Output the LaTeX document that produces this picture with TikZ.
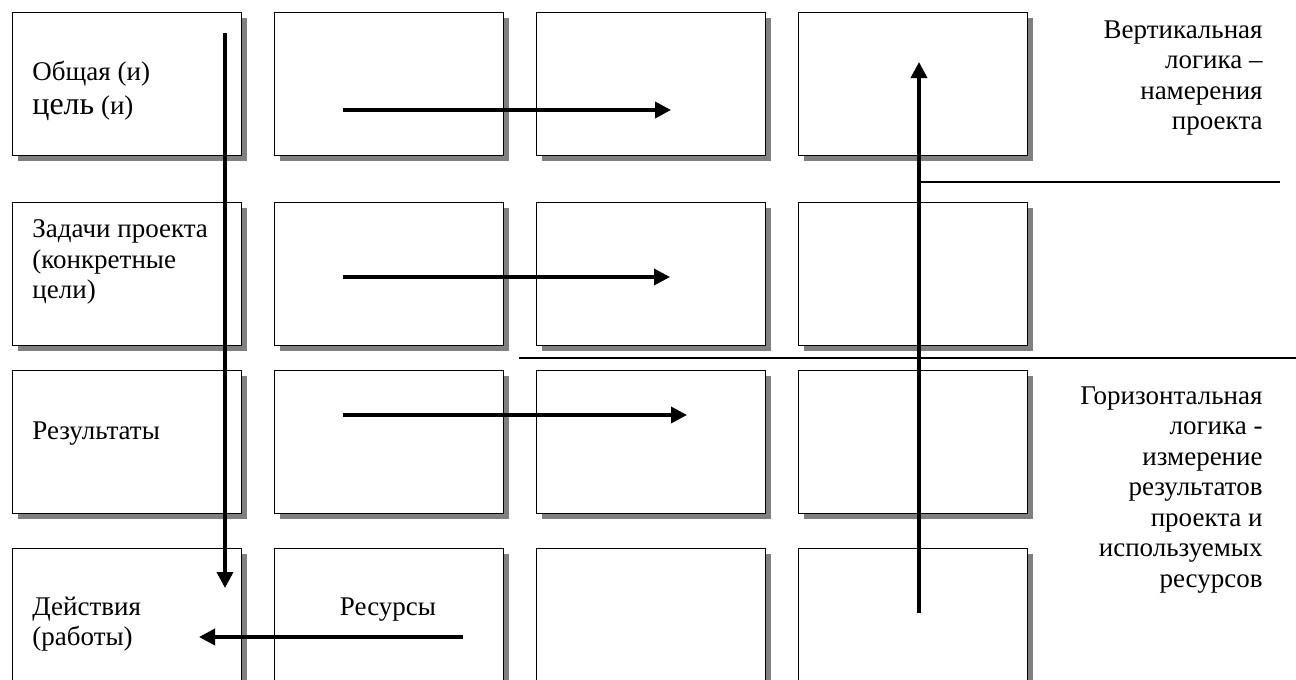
\documentclass[tikz,border=0pt]{standalone}
\usepackage{fontspec}
\setmainfont{Liberation Serif}
\usepackage{tikz}
\usetikzlibrary{arrows.meta, positioning, shadows}

\begin{document}
\begin{tikzpicture}[
  x=0.5pt, y=-0.5pt,
  font=\fontsize{13.5}{15.25}\selectfont,
  arrow/.style={-{Triangle[length=8pt, width=8pt]}, line width=1.8pt},
  cell_box/.style={draw, rectangle, fill=white, line width=0.7pt, minimum width=114.5pt, minimum height=71.5pt, inner sep=0pt, outer sep=0pt, drop shadow={shadow xshift=2.6pt, shadow yshift=-2.6pt, fill=black!50, opacity=1}},
  row_text/.style={anchor=west, align=left, inner sep=0pt},
  side_text/.style={anchor=east, align=right, inner sep=0pt},
  sep_line/.style={line width=0.6pt}
]
  \useasboundingbox (0,0) rectangle (1296,680);
  \clip (0,0) rectangle (1296,680);

  % Grid of cells (4 rows, 4 columns)
  \node (goal_a) [cell_box] at (127, 84) {};
  \node (goal_b) [cell_box, right=16.5pt of goal_a] {};
  \node (goal_c) [cell_box, right=16.5pt of goal_b] {};
  \node (goal_d) [cell_box, right=16.5pt of goal_c] {};

  \node (task_a) [cell_box] at (127, 274) {};
  \node (task_b) [cell_box, right=16.5pt of task_a] {};
  \node (task_c) [cell_box, right=16.5pt of task_b] {};
  \node (task_d) [cell_box, right=16.5pt of task_c] {};

  \node (res_a) [cell_box] at (127, 442) {};
  \node (res_b) [cell_box, right=16.5pt of res_a] {};
  \node (res_c) [cell_box, right=16.5pt of res_b] {};
  \node (res_d) [cell_box, right=16.5pt of res_c] {};

  \node (act_a) [cell_box] at (127, 620) {};
  \node (act_b) [cell_box, right=16.5pt of act_a] {};
  \node (act_c) [cell_box, right=16.5pt of act_b] {};
  \node (act_d) [cell_box, right=16.5pt of act_c] {};

  % Row labels
  \node (goal_txt) [row_text] at (32, 91) {Общая (и)\\[2pt]{\fontsize{16}{15.25}\selectfont цель} (и)};
  \node (task_txt) [row_text] at (32, 262) {Задачи проекта\\(конкретные\\цели)};
  \node (res_txt) [row_text] at (32, 434) {Результаты};
  \node (act_txt) [row_text] at (32, 624) {Действия\\(работы)};
  \node (means_txt) [inner sep=0pt] at (388, 610) {Ресурсы};

  % Side notes
  \node (vert_txt) [side_text] at (1263, 78) {Вертикальная\\логика –\\намерения\\проекта};
  \node (horiz_txt) [side_text] at (1263, 490) {Горизонтальная\\логика -\\измерение\\результатов\\проекта и\\используемых\\ресурсов};

  % Arrow ends
  \coordinate (down_s) at (225, 33);
  \coordinate (down_e) at (225, 588);
  \coordinate (up_s) at (919, 613);
  \coordinate (up_e) at (919, 62);
  \coordinate (goal_s) at (343, 110);
  \coordinate (goal_e) at (671, 110);
  \coordinate (task_s) at (343, 277);
  \coordinate (task_e) at (670, 277);
  \coordinate (res_s) at (343, 415);
  \coordinate (res_e) at (687, 415);
  \coordinate (means_s) at (463, 637);
  \coordinate (means_e) at (199, 637);

  % Connections
  \draw[arrow] (down_s) -- (down_e);
  \draw[arrow] (up_s) -- (up_e);
  \draw[arrow] (goal_s) -- (goal_e);
  \draw[arrow] (task_s) -- (task_e);
  \draw[arrow] (res_s) -- (res_e);
  \draw[arrow] (means_s) -- (means_e);

  % Dividers
  \coordinate (sep1_s) at (921, 182);
  \coordinate (sep1_e) at (1280, 182);
  \coordinate (sep2_s) at (519, 358);
  \coordinate (sep2_e) at (1296, 358);
  \draw[sep_line] (sep1_s) -- (sep1_e);
  \draw[sep_line] (sep2_s) -- (sep2_e);

\end{tikzpicture}
\end{document}
